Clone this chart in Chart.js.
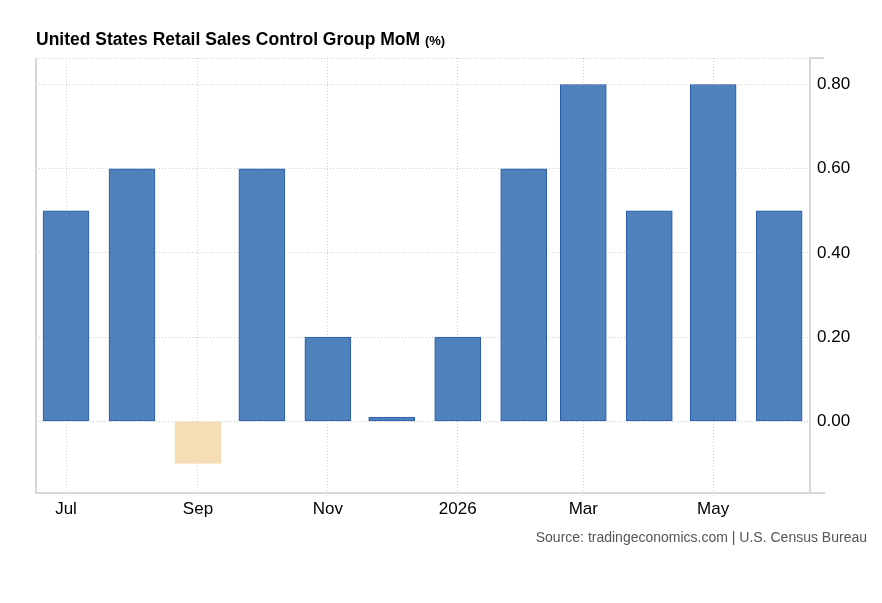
<!DOCTYPE html>
<html lang="en">
<head>
  <meta charset="UTF-8">
  <title>United States Retail Sales Control Group MoM</title>
  <script src="https://cdn.jsdelivr.net/npm/chart.js@4.4.1/dist/chart.umd.min.js"></script>
  <style>
    body { margin: 0; background: #fff; font-family: Arial, "Liberation Sans", Helvetica, sans-serif; }
    #wrap { position: relative; width: 882px; height: 603px; }
    #title { position: absolute; left: 36px; top: 29px; font-size: 17.5px; font-weight: bold; color: #000; white-space: nowrap; }
    #title small { font-size: 13px; }
    #source { position: absolute; right: 15px; top: 529px; font-size: 14px; color: #555; white-space: nowrap; }
    canvas { position: absolute; left: 0; top: 0; }
  </style>
</head>
<body>
  <div id="wrap">
    <canvas id="chart" width="882" height="603"></canvas>
    <div id="title">United States Retail Sales Control Group MoM <small>(%)</small></div>
    <div id="source">Source: tradingeconomics.com | U.S. Census Bureau</div>
  </div>
  <script>
    // monthly readings, Jul 2025 - Jun 2026
    const dates = ['2025-07-01', '2025-08-01', '2025-09-01', '2025-10-01', '2025-11-01', '2025-12-01',
                   '2026-01-01', '2026-02-01', '2026-03-01', '2026-04-01', '2026-05-01', '2026-06-01'];
    const values = [0.5, 0.6, -0.1, 0.6, 0.2, 0.01, 0.2, 0.6, 0.8, 0.5, 0.8, 0.5];
    const tickDates = ['2025-07-01', '2025-09-01', '2025-11-01', '2026-01-01', '2026-03-01', '2026-05-01'];
    const tickLabels = ['Jul', 'Sep', 'Nov', '2026', 'Mar', 'May'];
    const yTicks = [0, 0.2, 0.4, 0.6, 0.8];

    const start = Date.UTC(2025, 6, 1);
    const dayOf = d => (Date.parse(d + 'T00:00:00Z') - start) / 86400000;

    const points = dates.map((d, i) => ({ x: dayOf(d), y: values[i] }));
    const xTickVals = tickDates.map(dayOf);
    const yMax = 0.863;

    const font = { family: 'Arial, "Liberation Sans", sans-serif', size: 17 };

    // solid frame on the left edge and the small overhangs at the right axis
    const frame = {
      id: 'frame',
      beforeDatasetsDraw(chart) {
        const { ctx, chartArea: a } = chart;
        ctx.save();
        ctx.strokeStyle = '#d8d8d8';
        ctx.lineWidth = 2;
        ctx.beginPath();
        ctx.moveTo(a.left, a.top);
        ctx.lineTo(a.left, a.bottom);
        ctx.moveTo(a.right, a.top);
        ctx.lineTo(a.right + 14, a.top);
        ctx.moveTo(a.right, a.bottom);
        ctx.lineTo(a.right + 15, a.bottom);
        ctx.stroke();
        ctx.restore();
      }
    };

    const ctx = document.getElementById('chart').getContext('2d');
    const myChart = new Chart(ctx, {
      type: 'bar',
      data: {
        datasets: [{
          data: points,
          backgroundColor: values.map(v => v < 0 ? '#f5deb3' : '#4f81bd'),
          borderColor: values.map(v => v < 0 ? '#f3dcb0' : '#2a5ba8'),
          borderWidth: 1,
          borderSkipped: false,
          barThickness: 46
        }]
      },
      options: {
        responsive: false,
        animation: false,
        layout: { padding: { left: 36, top: 58, right: 0, bottom: 0 } },
        plugins: { legend: { display: false }, tooltip: { enabled: false } },
        scales: {
          x: {
            type: 'linear',
            offset: false,
            min: -14.1,
            max: 349.5,
            afterBuildTicks: axis => { axis.ticks = xTickVals.map(v => ({ value: v })); },
            afterFit: axis => { axis.height = 110; },
            ticks: {
              autoSkip: false,
              maxRotation: 0,
              padding: 6,
              color: '#000',
              font: font,
              callback: v => tickLabels[xTickVals.indexOf(v)]
            },
            grid: { color: '#cccccc', lineWidth: 1, drawTicks: false, offset: false },
            border: { display: true, color: '#d8d8d8', width: 2, dash: [1, 2] }
          },
          y: {
            position: 'right',
            min: -0.17,
            max: yMax,
            afterBuildTicks: axis => { axis.ticks = yTicks.concat([yMax]).map(v => ({ value: v })); },
            afterFit: axis => { axis.width = 72; },
            ticks: {
              padding: 7,
              color: '#000',
              font: font,
              callback: v => v === yMax ? '' : v.toFixed(2)
            },
            grid: { color: '#cccccc', lineWidth: 1, drawTicks: false },
            border: { display: true, color: '#d8d8d8', width: 2, dash: [1, 2] }
          }
        }
      },
      plugins: [frame]
    });
  </script>
</body>
</html>
